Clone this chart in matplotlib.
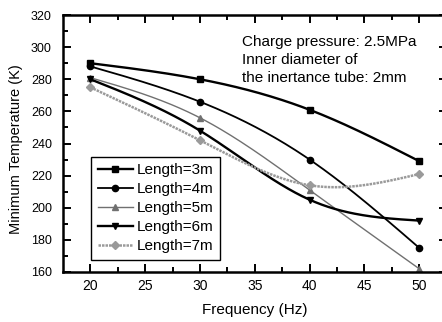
import matplotlib
matplotlib.use("Agg")
import matplotlib.pyplot as plt
import numpy as np

plt.rcParams['font.family'] = ['Liberation Sans', 'DejaVu Sans']

# data
freq = [20, 30, 40, 50]
len3m = [290, 280, 261, 229]
len4m = [288, 266, 230, 175]
len5m = [281, 256, 211, 162]
len6m = [280, 248, 205, 192]
len7m = [275, 242, 214, 221]
labels = ["Length=3m", "Length=4m", "Length=5m", "Length=6m", "Length=7m"]


def spline(x, y, n=200):
    # natural cubic spline through the points, only for drawing the smooth line
    x = np.asarray(x, float)
    y = np.asarray(y, float)
    k = len(x)
    h = np.diff(x)
    A = np.zeros((k, k))
    b = np.zeros(k)
    A[0, 0] = A[-1, -1] = 1
    for i in range(1, k - 1):
        A[i, i - 1] = h[i - 1]
        A[i, i] = 2 * (h[i - 1] + h[i])
        A[i, i + 1] = h[i]
        b[i] = 6 * ((y[i + 1] - y[i]) / h[i] - (y[i] - y[i - 1]) / h[i - 1])
    M = np.linalg.solve(A, b)
    xs = np.linspace(x[0], x[-1], n)
    j = np.clip(np.searchsorted(x, xs) - 1, 0, k - 2)
    t0 = x[j + 1] - xs
    t1 = xs - x[j]
    hj = h[j]
    ys = (M[j] * t0 ** 3 + M[j + 1] * t1 ** 3) / (6 * hj) \
        + (y[j] / hj - M[j] * hj / 6) * t0 + (y[j + 1] / hj - M[j + 1] * hj / 6) * t1
    return xs, ys


fig = plt.figure(figsize=(4.42, 3.22), dpi=100)
# axes runs a little past the right edge, like the cropped original
ax = fig.add_axes([0.1425, 0.1553, 0.868, 0.798])

series = [len3m, len4m, len5m, len6m, len7m]
colors = ["black", "black", "#707070", "black", "#9a9a9a"]
markers = ["s", "o", "^", "v", "D"]
widths = [1.7, 1.3, 1.0, 1.7, 1.8]
styles = ["-", "-", "-", "-", (0, (1, 0.4))]

for vals, c, m, w, ls, lab in zip(series, colors, markers, widths, styles, labels):
    xs, ys = spline(freq, vals)
    ax.plot(xs, ys, color=c, lw=w, ls=ls)
    ax.plot(freq, vals, ls="none", marker=m, color=c, ms=4.5)
    # proxy for legend
    ax.plot([], [], color=c, lw=w, ls=ls, marker=m, ms=4.5, label=lab)

ax.set_xlim(17.5, 52.5)
ax.set_ylim(160, 320)
ax.set_xticks([20, 25, 30, 35, 40, 45, 50])
ax.set_xticks(np.arange(22.5, 52.5, 5), minor=True)
ax.set_yticks(np.arange(160, 321, 20))
ax.set_yticks(np.arange(170, 320, 20), minor=True)

ax.tick_params(which="both", direction="in", top=True, right=True, width=1.4)
ax.tick_params(which="major", length=5.5)
ax.tick_params(which="minor", length=3.5)
ax.tick_params(axis="x", labelsize=10, pad=5)
ax.tick_params(axis="y", labelsize=9, pad=8)
for sp in ax.spines.values():
    sp.set_linewidth(1.8)

ax.set_xlabel("Frequency (Hz)", fontsize=11, labelpad=7.5)
ax.set_ylabel("Minimum Temperature (K)", fontsize=10.5)
ax.yaxis.set_label_coords(-0.104, 0.479)

ax.text(0.467, 0.923, "Charge pressure: 2.5MPa\nInner diameter of\nthe inertance tube: 2mm",
        transform=ax.transAxes, fontsize=11, va="top", ha="left", linespacing=1.38)

leg = ax.legend(loc="lower left", bbox_to_anchor=(0.073, 0.047), borderaxespad=0,
                fontsize=11, handlelength=2.3, handletextpad=0.25, labelspacing=0.32,
                borderpad=0.45, fancybox=False, framealpha=1, edgecolor="black")
leg.get_frame().set_linewidth(1.0)

fig.savefig("out.png", dpi=100)
